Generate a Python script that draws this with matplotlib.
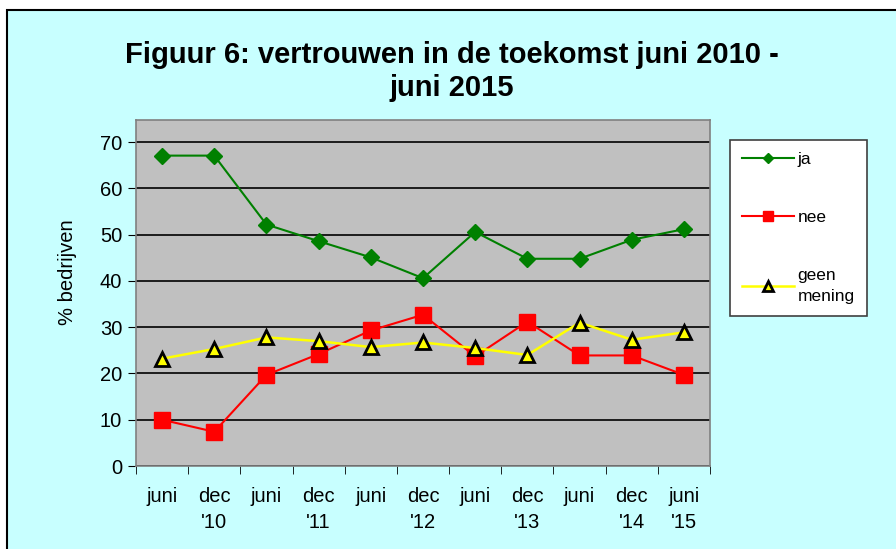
import numpy as np
import matplotlib.pyplot as plt
from matplotlib.patches import Rectangle

plt.rcParams['font.family'] = ['Liberation Sans', 'DejaVu Sans']

# data
periods = ["juni", "dec\n'10", "juni", "dec\n'11", "juni", "dec\n'12",
           "juni", "dec\n'13", "juni", "dec\n'14", "juni\n'15"]
ja = [67.1, 67.1, 52.2, 48.6, 45.1, 40.6, 50.6, 44.8, 44.8, 48.9, 51.2]
nee = [10.0, 7.4, 19.7, 24.2, 29.3, 32.7, 23.7, 31.2, 23.9, 23.9, 19.7]
geen_mening = [23.2, 25.3, 27.8, 27.0, 25.7, 26.7, 25.5, 24.0, 31.0, 27.3, 28.9]

bg = '#C8FFFF'

fig = plt.figure(figsize=(8.96, 5.49), dpi=100)
fig.patch.set_facecolor('white')
# chart area with black border on the left and top
fig.patches.append(Rectangle((7/896, -0.05), 1.0, 1 - 10/549 + 0.05,
                             transform=fig.transFigure, facecolor=bg,
                             edgecolor='black', linewidth=1.5, zorder=-5))

ax = fig.add_axes([136/896, 1 - 466/549, (710 - 136)/896, (466 - 120)/549])
ax.set_facecolor('#C0C0C0')
for s in ax.spines.values():
    s.set_color('#808080')
    s.set_linewidth(1.2)

x = np.arange(len(periods))
ax.plot(x, ja, color='#008000', marker='D', markersize=8, linewidth=1.5,
        label='ja', zorder=3)
ax.plot(x, nee, color='#FF0000', marker='s', markersize=11, linewidth=1.5,
        label='nee', zorder=3)
ax.plot(x, geen_mening, color='#FFFF00', marker='^', markersize=10,
        markerfacecolor='#FFFF00', markeredgecolor='black', markeredgewidth=2,
        linewidth=1.8, label='geen\nmening', zorder=4)

ax.set_xlim(-0.5, len(periods) - 0.5)
ax.set_ylim(0, 74.8)
ax.set_yticks(range(0, 71, 10))
ax.yaxis.grid(True, color='black', linewidth=1.2)
ax.set_axisbelow(True)

ax.set_xticks(x)
ax.set_xticklabels(periods, fontsize=14.5, va='top', linespacing=1.45)
ax.set_xticks(np.arange(-0.5, len(periods)), minor=True)
ax.tick_params(axis='x', which='major', length=0, pad=15)
ax.tick_params(axis='x', which='minor', length=6, color='black')
ax.tick_params(axis='y', labelsize=14.5, length=6, color='black', pad=4)
ax.set_ylabel('% bedrijven', fontsize=14.5)
ax.yaxis.set_label_coords(-0.103, 0.56)

fig.text(452/896, 1 - 55/549, 'Figuur 6: vertrouwen in de toekomst juni 2010 -',
         ha='center', va='center', fontsize=21, fontweight='bold')
fig.text(452/896, 1 - 88/549, 'juni 2015',
         ha='center', va='center', fontsize=21, fontweight='bold')

leg = fig.legend(loc='upper left', bbox_to_anchor=(730/896, 1 - 140/549),
                 fontsize=12.5, frameon=True, fancybox=False, labelspacing=2.45,
                 handlelength=3.0, borderpad=0.7, handletextpad=0.2,
                 markerscale=0.7, borderaxespad=0)
for t in leg.get_texts():
    t.set_linespacing(1.55)
leg.get_frame().set_edgecolor('#404040')
leg.get_frame().set_linewidth(1.2)
leg.get_frame().set_facecolor('white')
leg.get_frame().set_alpha(1)

fig.savefig('out.png', dpi=100, facecolor=fig.get_facecolor())
